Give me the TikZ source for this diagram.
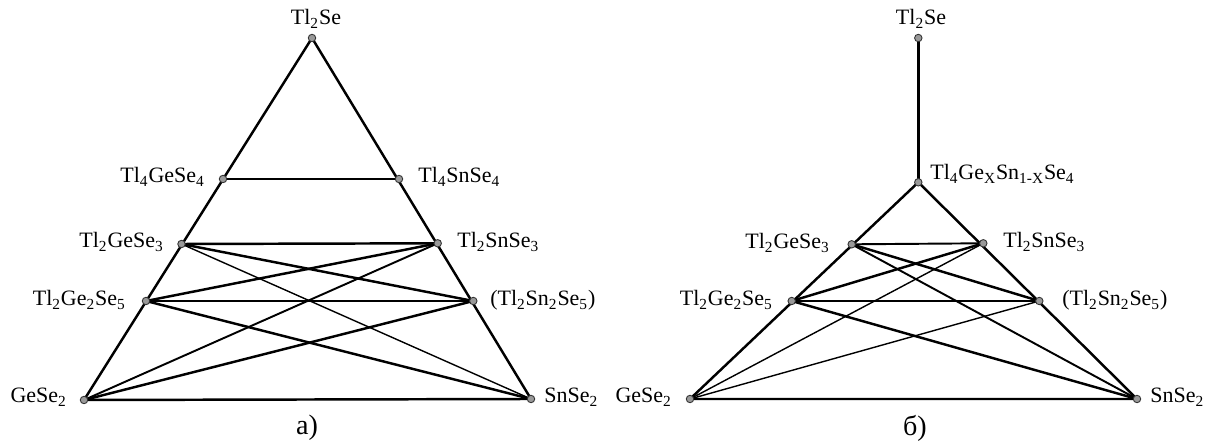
\documentclass[tikz,border=0pt]{standalone}
\usepackage{fontspec}
\setmainfont{Liberation Serif}
\begin{document}
\begin{tikzpicture}[x=0.02cm,y=-0.02cm,
  pt/.style={circle,draw=black!80,fill=black!40,line width=0.5pt,inner sep=0pt,minimum size=7.5*0.567pt},
  lbl/.style={inner sep=0pt,font=\fontsize{12.5}{15}\selectfont},
  captxt/.style={inner sep=0pt,font=\fontsize{16}{19}\selectfont},
  thk/.style={line width=1.4pt},
  med/.style={line width=1.1pt},
  thn/.style={line width=0.8pt}]
\useasboundingbox (0,0) rectangle (1215,445);

% ---------- a) ----------
\coordinate (aT) at (312,38);
\coordinate (aG4) at (223,179);
\coordinate (aS4) at (399,179);
\coordinate (aG3) at (181.5,244);
\coordinate (aS3) at (437.7,243.3);
\coordinate (aG5) at (146,301);
\coordinate (aS5) at (473.3,301);
\coordinate (aG) at (84,400);
\coordinate (aS) at (531,399);

\draw[thk] (aT) -- (aG) -- (aS) -- cycle;
\draw[med] (aG4) -- (aS4);
\draw[thk] (aG3) -- (aS3);
\draw[thn] (aG5) -- (aS5);
\draw[thk] (aG3) -- (aS5);
\draw[thk] (aS3) -- (aG5);
\draw[thn] (aG3) -- (aS);
\draw[med] (aS3) -- (aG);
\draw[thk] (aG5) -- (aS);
\draw[thk] (aS5) -- (aG);

\foreach \p in {aT,aG4,aS4,aG3,aS3,aG5,aS5,aG,aS}
  \node[pt] (n\p) at (\p) {};

\node[lbl,anchor=base] (laT) at (316,25) {Tl\textsubscript{2}Se};
\node[lbl,anchor=base east] (laG4) at (205,183) {Tl\textsubscript{4}GeSe\textsubscript{4}};
\node[lbl,anchor=base west] (laS4) at (418,183) {Tl\textsubscript{4}SnSe\textsubscript{4}};
\node[lbl,anchor=base east] (laG3) at (164,248) {Tl\textsubscript{2}GeSe\textsubscript{3}};
\node[lbl,anchor=base west] (laS3) at (457,248) {Tl\textsubscript{2}SnSe\textsubscript{3}};
\node[lbl,anchor=base east] (laG5) at (126,306) {Tl\textsubscript{2}Ge\textsubscript{2}Se\textsubscript{5}};
\node[lbl,anchor=base west] (laS5) at (490,306) {(Tl\textsubscript{2}Sn\textsubscript{2}Se\textsubscript{5})};
\node[lbl,anchor=base east] (laG) at (67,403) {GeSe\textsubscript{2}};
\node[lbl,anchor=base west] (laS) at (544,403) {SnSe\textsubscript{2}};
\node[captxt] (capa) at (307,428) {a)};

% ---------- б) ----------
\coordinate (bT) at (918.3,38);
\coordinate (bX) at (918.3,182.3);
\coordinate (bG3) at (851.7,244.3);
\coordinate (bS3) at (983.3,243.3);
\coordinate (bG5) at (791.7,301);
\coordinate (bS5) at (1039.3,301);
\coordinate (bG) at (690,399);
\coordinate (bS) at (1137,399);

\draw[thk] (bT) -- (bX);
\draw[thk] (bX) -- (bG) -- (bS) -- cycle;
\draw[med] (bG3) -- (bS3);
\draw[med] (bG5) -- (bS5);
\draw[thk] (bG3) -- (bS5);
\draw[med] (bG3) -- (bS);
\draw[thk] (bS3) -- (bG5);
\draw[thn] (bS3) -- (bG);
\draw[thk] (bG5) -- (bS);
\draw[thn] (bS5) -- (bG);

\foreach \p in {bT,bX,bG3,bS3,bG5,bS5,bG,bS}
  \node[pt] (n\p) at (\p) {};

\node[lbl,anchor=base] (lbT) at (921,25) {Tl\textsubscript{2}Se};
\node[lbl,anchor=base west] (lbX) at (930,180) {Tl\textsubscript{4}Ge\textsubscript{X}Sn\textsubscript{1-X}Se\textsubscript{4}};
\node[lbl,anchor=base east] (lbG3) at (830,249) {Tl\textsubscript{2}GeSe\textsubscript{3}};
\node[lbl,anchor=base west] (lbS3) at (1003,248) {Tl\textsubscript{2}SnSe\textsubscript{3}};
\node[lbl,anchor=base east] (lbG5) at (773,306) {Tl\textsubscript{2}Ge\textsubscript{2}Se\textsubscript{5}};
\node[lbl,anchor=base west] (lbS5) at (1062,306) {(Tl\textsubscript{2}Sn\textsubscript{2}Se\textsubscript{5})};
\node[lbl,anchor=base east] (lbG) at (672,403) {GeSe\textsubscript{2}};
\node[lbl,anchor=base west] (lbS) at (1150,403) {SnSe\textsubscript{2}};
\node[captxt] (capb) at (915,428) {б)};
\end{tikzpicture}
\end{document}
